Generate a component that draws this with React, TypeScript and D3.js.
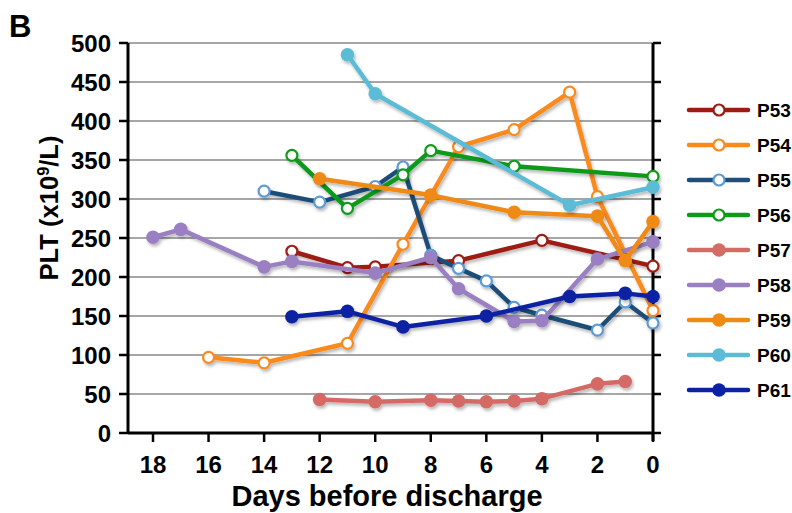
import * as d3 from 'd3'
import React from 'react'

const width = 792
const height = 513

const yTicks = [0, 50, 100, 150, 200, 250, 300, 350, 400, 450, 500]
const xTicks = [18, 16, 14, 12, 10, 8, 6, 4, 2, 0]

const patients = ['P53', 'P54', 'P55', 'P56', 'P57', 'P58', 'P59', 'P60', 'P61']

// days before discharge / PLT per patient
const p53Days = [13, 11, 10, 7, 4, 0]
const p53Plt = [233, 212, 213, 221, 247, 214]
const p54Days = [16, 14, 11, 9, 7, 5, 3, 2, 0]
const p54Plt = [97, 90, 115, 242, 367, 389, 437, 303, 157]
const p55Days = [14, 12, 10, 9, 8, 7, 6, 5, 4, 2, 1, 0]
const p55Plt = [310, 296, 316, 341, 228, 211, 195, 161, 151, 132, 168, 141]
const p56Days = [13, 11, 9, 8, 5, 0]
const p56Plt = [356, 288, 331, 362, 342, 329]
const p57Days = [12, 10, 8, 7, 6, 5, 4, 2, 1]
const p57Plt = [43, 40, 42, 41, 40, 41, 44, 63, 66]
const p58Days = [18, 17, 14, 13, 10, 8, 7, 5, 4, 2, 0]
const p58Plt = [251, 261, 213, 220, 205, 225, 185, 143, 144, 223, 245]
const p59Days = [12, 8, 5, 2, 1, 0]
const p59Plt = [326, 305, 283, 278, 221, 271]
const p60Days = [11, 10, 3, 0]
const p60Plt = [485, 435, 292, 315]
const p61Days = [13, 11, 9, 6, 3, 1, 0]
const p61Plt = [149, 156, 136, 150, 175, 179, 175]

const lineColors = ['#9e1b12', '#fb8a1d', '#1f4e79', '#0f9a1a', '#d46b65', '#9a80c2', '#ef8a13', '#5bbcd6', '#0b22a3']
const markerStroke = ['#9e1b12', '#fb8a1d', '#5b9bd5', '#0f9a1a', '#d46b65', '#9a80c2', '#ef8a13', '#5bbcd6', '#0b22a3']
const openMarker = [true, true, true, true, false, false, false, false, false]

const allDays = [p53Days, p54Days, p55Days, p56Days, p57Days, p58Days, p59Days, p60Days, p61Days]
const allPlt = [p53Plt, p54Plt, p55Plt, p56Plt, p57Plt, p58Plt, p59Plt, p60Plt, p61Plt]

const plot = { left: 128, right: 653, top: 43, bottom: 433 }
const font = '"Liberation Sans", Arial, sans-serif'

const App: React.FC = () => {
  const x = d3.scaleLinear().domain([18.9, 0]).range([plot.left, plot.right])
  const y = d3.scaleLinear().domain([0, 500]).range([plot.bottom, plot.top])

  const series = patients.map((name, i) => ({
    name,
    points: allDays[i].map((d, j) => ({ day: d, plt: allPlt[i][j] })),
  }))

  const line = d3
    .line<{ day: number; plt: number }>()
    .x((d) => x(d.day))
    .y((d) => y(d.plt))

  const legendX = 689
  const legendY = d3.scaleLinear().domain([0, 8]).range([110, 390])

  const marker = (i: number, cx: number, cy: number, key?: React.Key) => (
    <circle
      key={key}
      cx={cx}
      cy={cy}
      r={openMarker[i] ? 5.5 : 6.8}
      fill={openMarker[i] ? '#fff' : lineColors[i]}
      stroke={markerStroke[i]}
      strokeWidth={openMarker[i] ? 2.2 : 0}
    />
  )

  return (
    <svg
      width={width}
      height={height}
      style={{ position: 'absolute', left: 0, top: 0, background: '#fff' }}
      fontFamily={font}
      fontWeight='bold'
    >
      <defs>
        <filter id='shadow' x='-10%' y='-10%' width='120%' height='130%'>
          <feDropShadow dx='1.5' dy='2.5' stdDeviation='1.5' floodColor='#000' floodOpacity='0.28' />
        </filter>
      </defs>

      <text x={9} y={37} fontSize={31}>
        B
      </text>

      {/* grid */}
      {yTicks
        .filter((t) => t > 0)
        .map((t) => (
          <line key={'g' + t} x1={plot.left} x2={plot.right} y1={y(t)} y2={y(t)} stroke='#a6a6a6' strokeWidth={2} />
        ))}

      {/* left axis */}
      <line x1={plot.left} x2={plot.left} y1={plot.top} y2={plot.bottom + 1} stroke='#000' strokeWidth={3} />
      {yTicks.map((t) => (
        <g key={'yl' + t}>
          <line x1={plot.left - 9} x2={plot.left} y1={y(t)} y2={y(t)} stroke='#000' strokeWidth={2.5} />
          <text x={111} y={y(t)} dy='0.36em' textAnchor='end' fontSize={24}>
            {t}
          </text>
        </g>
      ))}

      {/* right axis */}
      <line x1={plot.right} x2={plot.right} y1={plot.top} y2={plot.bottom + 8} stroke='#000' strokeWidth={3} />
      {yTicks.map((t) => (
        <line key={'yr' + t} x1={plot.right} x2={plot.right + 8} y1={y(t)} y2={y(t)} stroke='#000' strokeWidth={2.5} />
      ))}

      {/* x axis */}
      <line x1={plot.left} x2={plot.right} y1={plot.bottom} y2={plot.bottom} stroke='#000' strokeWidth={3} />
      {xTicks.map((t) => (
        <g key={'x' + t}>
          <line x1={x(t)} x2={x(t)} y1={plot.bottom} y2={plot.bottom + 9} stroke='#000' strokeWidth={2.5} />
          <text x={x(t)} y={473} textAnchor='middle' fontSize={24}>
            {t}
          </text>
        </g>
      ))}

      <text x={387} y={506} textAnchor='middle' fontSize={29}>
        Days before discharge
      </text>
      <text transform='translate(58,208) rotate(-90)' textAnchor='middle' fontSize={25} textLength={145} lengthAdjust='spacingAndGlyphs'>
        PLT (x10<tspan dy={-9} fontSize={16}>9</tspan>
        <tspan dy={9}>/L)</tspan>
      </text>

      {/* series */}
      {series.map((s, i) => (
        <g key={s.name} filter='url(#shadow)'>
          <path d={line(s.points) || ''} fill='none' stroke={lineColors[i]} strokeWidth={4.5} strokeLinejoin='round' />
          {s.points.map((p, j) => marker(i, x(p.day), y(p.plt), j))}
        </g>
      ))}

      {/* legend */}
      {series.map((s, i) => (
        <g key={'lg' + s.name}>
          <line
            x1={legendX}
            x2={legendX + 59}
            y1={legendY(i)}
            y2={legendY(i)}
            stroke={lineColors[i]}
            strokeWidth={4.5}
            strokeLinecap='round'
          />
          {marker(i, legendX + 30, legendY(i))}
          <text x={legendX + 68} y={legendY(i)} dy='0.36em' fontSize={19}>
            {s.name}
          </text>
        </g>
      ))}
    </svg>
  )
}

export default App
